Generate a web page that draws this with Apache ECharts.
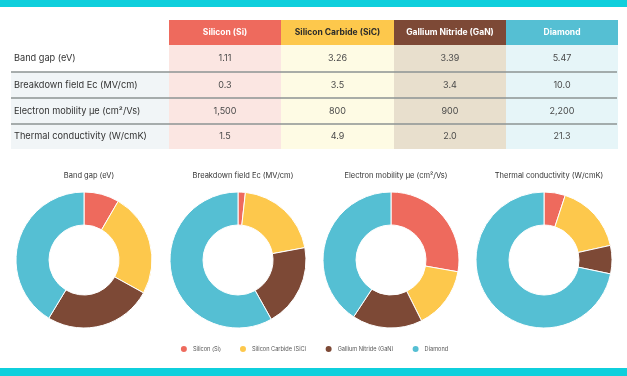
<!DOCTYPE html>
<html>
<head>
<meta charset="utf-8">
<script src="https://cdn.jsdelivr.net/npm/echarts@6/dist/echarts.min.js"></script>
<style>
  html, body { margin: 0; padding: 0; background: #fff; }
  #chart { width: 627px; height: 376px; }
</style>
</head>
<body>
<div id="chart"></div>
<script>
// 数据
var materials = ['Silicon (Si)', 'Silicon Carbide (SiC)', 'Gallium Nitride (GaN)', 'Diamond'];
var properties = ['Band gap (eV)', 'Breakdown field Ec (MV/cm)', 'Electron mobility \u00b5e (cm\u00b2/Vs)', 'Thermal conductivity (W/cmK)'];
var bandGap = [1.11, 3.26, 3.39, 5.47];
var breakdownField = [0.3, 3.5, 3.4, 10.0];
var electronMobility = [1500, 800, 900, 2200];
var thermalConductivity = [1.5, 4.9, 2.0, 21.3];
// 表格里显示的文字
var bandGapText = ['1.11', '3.26', '3.39', '5.47'];
var breakdownText = ['0.3', '3.5', '3.4', '10.0'];
var mobilityText = ['1,500', '800', '900', '2,200'];
var thermalText = ['1.5', '4.9', '2.0', '21.3'];

var colors = ['#ee6a5d', '#fdc84c', '#7d4936', '#55bfd3'];
var lightColors = ['#fbe6e2', '#fefbe4', '#e8dfcd', '#e6f5f8'];
var headerText = ['#fff', '#2b2b2b', '#fff', '#fff'];

var myChart = echarts.init(document.getElementById('chart'));

var allValues = [bandGap, breakdownField, electronMobility, thermalConductivity];
var allText = [bandGapText, breakdownText, mobilityText, thermalText];

// 表格布局
var colX = [169, 281, 394, 506, 618];
var rowY = [20, 45, 72, 98, 124, 149];
var fontFam = 'Inter, "Noto Sans", sans-serif';

var graphics = [];
// 顶部和底部的青色条
graphics.push({type: 'rect', shape: {x: 0, y: 0, width: 627, height: 7}, style: {fill: '#0fcfdc'}});
graphics.push({type: 'rect', shape: {x: 0, y: 368, width: 627, height: 8}, style: {fill: '#0fcfdc'}});

// 左侧标签列背景
for (var r = 1; r < 4; r++) {
    graphics.push({type: 'rect', shape: {x: 11, y: rowY[r + 1], width: colX[0] - 11, height: rowY[r + 2] - rowY[r + 1]}, style: {fill: '#f1f5f7'}});
}

for (var c = 0; c < 4; c++) {
    // 表头
    graphics.push({
        type: 'rect',
        shape: {x: colX[c], y: rowY[0], width: colX[c + 1] - colX[c], height: rowY[1] - rowY[0]},
        style: {fill: colors[c]}
    });
    graphics.push({
        type: 'text',
        x: (colX[c] + colX[c + 1]) / 2, y: (rowY[0] + rowY[1]) / 2,
        style: {text: materials[c], fill: headerText[c], font: 'bold 8.5px ' + fontFam, align: 'center', verticalAlign: 'middle'}
    });
    // 数据列背景
    graphics.push({
        type: 'rect',
        shape: {x: colX[c], y: rowY[1], width: colX[c + 1] - colX[c], height: rowY[5] - rowY[1]},
        style: {fill: lightColors[c]}
    });
}

for (var r = 0; r < 4; r++) {
    var cy = (rowY[r + 1] + rowY[r + 2]) / 2;
    graphics.push({
        type: 'text', x: 14, y: cy,
        style: {text: properties[r], fill: '#333', font: '9.2px ' + fontFam, align: 'left', verticalAlign: 'middle'}
    });
    for (var c = 0; c < 4; c++) {
        graphics.push({
            type: 'text', x: (colX[c] + colX[c + 1]) / 2, y: cy,
            style: {text: allText[r][c], fill: '#4a4a4a', font: '9px ' + fontFam, align: 'center', verticalAlign: 'middle'}
        });
    }
    if (r < 3) {
        graphics.push({
            type: 'line',
            shape: {x1: 11, y1: rowY[r + 2], x2: 617, y2: rowY[r + 2]},
            style: {stroke: '#8c9393', lineWidth: 1.5}
        });
    }
}

var centersX = [84, 238, 391, 544];
var titles = [];
var series = [];
for (var i = 0; i < 4; i++) {
    titles.push({
        text: properties[i],
        left: centersX[i], top: 167,
        textAlign: 'center',
        textStyle: {fontSize: 7.5, fontWeight: 'normal', color: '#333', fontFamily: fontFam}
    });
    var data = [];
    for (var j = 0; j < 4; j++) {
        data.push({name: materials[j], value: allValues[i][j]});
    }
    series.push({
        name: properties[i],
        type: 'pie',
        center: [centersX[i], 260],
        radius: [35, 68],
        startAngle: 90,
        clockwise: true,
        avoidLabelOverlap: false,
        label: {show: false},
        labelLine: {show: false},
        itemStyle: {borderColor: '#fff', borderWidth: 1},
        emphasis: {disabled: true},
        animation: false,
        data: data
    });
}

var option = {
    backgroundColor: '#fff',
    color: colors,
    animation: false,
    title: titles,
    legend: {
        data: materials,
        left: 'center',
        top: 339,
        icon: 'circle',
        itemWidth: 8,
        itemHeight: 8,
        itemGap: 17,
        textStyle: {fontSize: 5.6, color: '#555', fontFamily: fontFam}
    },
    graphic: graphics,
    series: series
};

myChart.setOption(option);
</script>
</body>
</html>
